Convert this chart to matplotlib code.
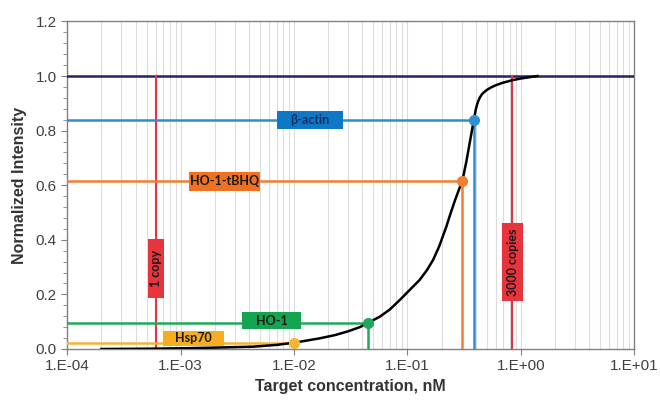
import numpy as np
import matplotlib
matplotlib.use("Agg")
import matplotlib.pyplot as plt
from matplotlib.patches import Rectangle
from matplotlib.ticker import FuncFormatter, MultipleLocator, LogLocator

plt.rcParams['font.family'] = ['Liberation Sans', 'DejaVu Sans']

# standard curve
curve_x = [2e-4, 5e-4, 1e-3, 2e-3, 4.36e-3, 7e-3, 1e-2, 1.68e-2, 2.3e-2, 3e-2, 0.038, 0.0453,
           0.0569, 0.07, 0.0853, 0.1, 0.128, 0.148, 0.168, 0.19, 0.22, 0.24, 0.263, 0.285,
           0.305, 0.33, 0.353, 0.37, 0.383, 0.392, 0.40, 0.41, 0.418, 0.43, 0.44, 0.45,
           0.462, 0.5, 0.55, 0.607, 0.7, 0.845, 1.0, 1.2, 1.4]
curve_y = [0.0, 0.001, 0.0025, 0.005, 0.0085, 0.015, 0.023, 0.039, 0.051, 0.065, 0.08, 0.097,
           0.118, 0.145, 0.179, 0.208, 0.253, 0.288, 0.326, 0.375, 0.448, 0.497, 0.546, 0.585,
           0.617, 0.685, 0.753, 0.800, 0.836, 0.858, 0.877, 0.894, 0.905, 0.917, 0.925, 0.931,
           0.937, 0.949, 0.959, 0.967, 0.976, 0.985, 0.991, 0.996, 1.0]

# genes
genes = ["β-actin", "HO-1-tBHQ", "HO-1", "Hsp70"]
gene_conc = [0.383, 0.305, 0.0453, 0.01]
gene_int = [0.84, 0.615, 0.097, 0.023]
gene_col = ["#2b8fd3", "#f07f32", "#1fa85a", "#f5b435"]
box_col = ["#0f78c6", "#ef7124", "#15a44f", "#f5ae20"]
txt_col = ["#1c2d5c", "#1a1a1a", "#1a1a1a", "#1a1a1a"]
# label boxes: x left, x right, y bottom, y top
gene_box = [(7.0e-3, 0.027, 0.805, 0.873),
            (1.19e-3, 4.99e-3, 0.580, 0.648),
            (3.5e-3, 0.0116, 0.073, 0.134),
            (7.0e-4, 2.4e-3, 0.012, 0.066)]

# copy number markers
copies = ["1 copy", "3000 copies"]
copy_conc = [6.0e-4, 0.84]
copy_box = [(5.11e-4, 7.11e-4, 0.186, 0.402),
            (0.686, 1.04, 0.177, 0.460)]
red = "#e8343c"

fig = plt.figure(figsize=(6.6, 4.01), dpi=100)
ax = fig.add_axes([0.102, 0.1297, 0.859, 0.8168])

ax.set_xscale('log')
ax.set_xlim(1e-4, 10)
ax.set_ylim(0, 1.2)

ax.xaxis.set_major_locator(LogLocator(base=10, numticks=10))
ax.xaxis.set_minor_locator(LogLocator(base=10, subs=np.arange(2, 10), numticks=20))
ax.grid(which='both', axis='x', color='#dcdcdc', lw=0.8)
ax.set_axisbelow(True)

ax.xaxis.set_major_formatter(FuncFormatter(lambda v, p: "1.E%+03d" % int(round(np.log10(v)))))
ax.xaxis.set_minor_formatter(FuncFormatter(lambda v, p: ""))
ax.yaxis.set_major_locator(MultipleLocator(0.2))
ax.yaxis.set_minor_locator(MultipleLocator(0.04))
ax.yaxis.set_major_formatter(FuncFormatter(lambda v, p: "%.1f" % v))

ax.tick_params(which='major', direction='out', length=4, color='#808080',
               labelsize=11, labelcolor='#404040')
ax.tick_params(axis='y', which='minor', direction='out', length=3, color='#808080')
ax.tick_params(axis='x', which='minor', length=0)
for s in ax.spines.values():
    s.set_color('#808080')
    s.set_linewidth(1.0)

# saturation level
ax.axhline(1.0, color='#262262', lw=1.8, zorder=3)

# copy number lines
for name, c, b in zip(copies, copy_conc, copy_box):
    ax.plot([c, c], [0, 1.0], color=red, lw=1.5, zorder=3)
    ax.add_patch(Rectangle((b[0], b[2]), b[1] - b[0], b[3] - b[2], facecolor=red,
                           edgecolor='none', zorder=5))
    ax.text(np.sqrt(b[0] * b[1]), (b[2] + b[3]) / 2, name, rotation=90, ha='center',
            va='center', fontsize=9, fontweight='bold', family=['Lato', 'DejaVu Sans'],
            color='#1a1a1a', zorder=6)

# gene lines
for name, c, v, col, bcol, tcol, b in zip(genes, gene_conc, gene_int, gene_col,
                                          box_col, txt_col, gene_box):
    ax.plot([1e-4, c, c], [v, v, 0], color=col, lw=1.8, zorder=4)
    ax.add_patch(Rectangle((b[0], b[2]), b[1] - b[0], b[3] - b[2], facecolor=bcol,
                           edgecolor='none', zorder=5))
    ax.text(np.sqrt(b[0] * b[1]), (b[2] + b[3]) / 2, name, ha='center', va='center',
            fontsize=9, fontweight='bold', family=['Lato', 'DejaVu Sans'],
            color=tcol, zorder=6)

ax.plot(curve_x, curve_y, color='black', lw=1.8, zorder=7)
for c, v, col in zip(gene_conc, gene_int, gene_col):
    ax.plot(c, v, 'o', color=col, ms=7, zorder=8)

ax.set_xlabel("Target concentration, nM", fontsize=11.5, fontweight='bold',
              color='#333333', labelpad=4)
ax.set_ylabel("Normalized Intensity", fontsize=11.5, fontweight='bold',
              color='#333333', labelpad=6)

fig.savefig("out.png", dpi=100)
